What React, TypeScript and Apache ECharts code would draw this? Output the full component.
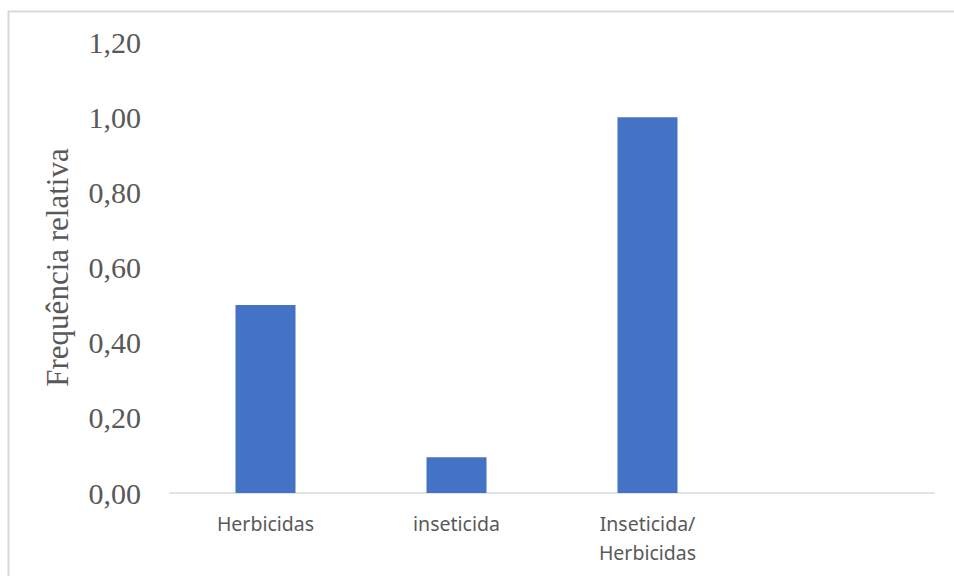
import React, { useEffect, useRef } from "react";
import * as echarts from "echarts";

const categories: string[] = ["Herbicidas", "inseticida", "Inseticida/\nHerbicidas", ""];
const values: (number | null)[] = [0.5, 0.095, 1.0, null];
const yTicks = { min: 0, max: 1.2, interval: 0.2 };

export default function App() {
  const ref = useRef<HTMLDivElement>(null);
  useEffect(() => {
    document.body.style.margin = "0";
    if (!ref.current) return;
    const chart = echarts.init(ref.current, undefined, { renderer: "svg" });
    chart.setOption({
      animation: false,
      backgroundColor: "#ffffff",
      graphic: [
        {
          type: "rect",
          shape: { x: 8.5, y: 11.5, width: 1000, height: 1000 },
          style: { fill: "none", stroke: "#d9d9d9", lineWidth: 2 },
          silent: true,
        },
      ],
      grid: { left: 170, right: 20, top: 42, bottom: 83 },
      xAxis: {
        type: "category",
        data: categories,
        axisLine: { show: true, lineStyle: { color: "#d9d9d9", width: 1.5 } },
        axisTick: { show: false },
        axisLabel: {
          interval: 0,
          color: "#595959",
          fontFamily: "Noto Sans",
          fontSize: 19.5,
          lineHeight: 29,
          margin: 16,
        },
      },
      yAxis: {
        type: "value",
        min: yTicks.min,
        max: yTicks.max,
        interval: yTicks.interval,
        name: "Frequência relativa",
        nameLocation: "middle",
        nameRotate: 90,
        nameGap: 97,
        nameTextStyle: {
          color: "#595959",
          fontFamily: "Liberation Serif",
          fontSize: 31,
        },
        axisLine: { show: false },
        axisTick: { show: false },
        splitLine: { show: false },
        axisLabel: {
          color: "#595959",
          fontFamily: "Liberation Serif",
          fontSize: 30,
          margin: 29,
          formatter: (v: number) => v.toFixed(2).replace(".", ","),
        },
      },
      series: [
        {
          type: "bar",
          data: values,
          barWidth: 60,
          itemStyle: { color: "#4472C4" },
        },
      ],
    });
    return () => chart.dispose();
  }, []);
  return <div ref={ref} style={{ width: 954, height: 576 }} />;
}
